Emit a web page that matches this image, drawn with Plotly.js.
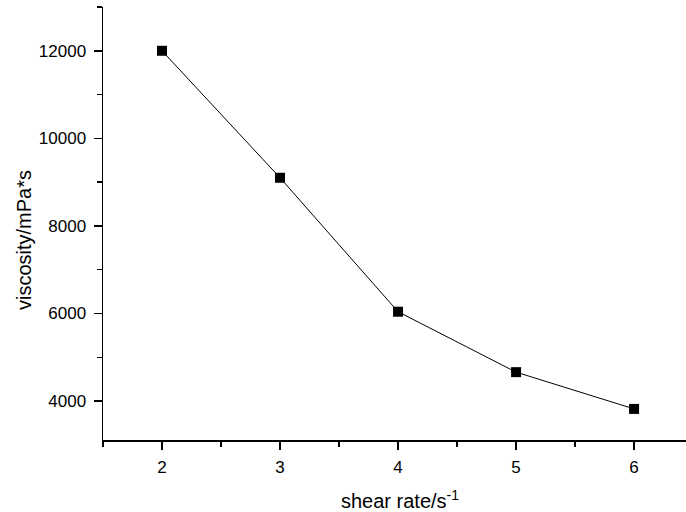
<!DOCTYPE html>
<html>
<head>
<meta charset="utf-8">
<script src="https://cdn.plot.ly/plotly-3.0.1.min.js"></script>
<style>
html,body{margin:0;padding:0;background:#fff;}
#chart{width:686px;height:512px;}
</style>
</head>
<body>
<div id="chart"></div>
<script>
const shearRate = [2, 3, 4, 5, 6];
const viscosity = [12000, 9100, 6040, 4660, 3820];
const xTickVals = [2, 3, 4, 5, 6];
const yTickVals = [4000, 6000, 8000, 10000, 12000];
const xTitle = "shear rate/s<sup>-1</sup>";
const yTitle = "viscosity/mPa*s";

const trace = {
  x: shearRate,
  y: viscosity,
  type: "scatter",
  mode: "lines+markers",
  line: {color: "#000", width: 1},
  marker: {symbol: "square", size: 10, color: "#000"},
  showlegend: false
};

const fontFam = "Liberation Sans, Arial, sans-serif";
const L = 103, T = 7, B = 72, W = 686, H = 512;
const pw = W - L, ph = H - T - B;

const layout = {
  width: W,
  height: H,
  margin: {l: L, r: 0, t: T, b: B},
  paper_bgcolor: "#fff",
  plot_bgcolor: "#fff",
  font: {family: fontFam, color: "#000", size: 17},
  xaxis: {
    range: [1.5, 6.44],
    tickvals: xTickVals,
    ticktext: xTickVals.map(String),
    ticks: "outside",
    ticklen: 8,
    tickwidth: 1.5,
    tickcolor: "#000",
    showline: true,
    linecolor: "#000",
    linewidth: 1.5,
    showgrid: false,
    zeroline: false,
    ticklabelstandoff: 3,
    tickfont: {family: fontFam, size: 17, color: "#000"},
    minor: {dtick: 0.5, tick0: 1.5, ticks: "outside", ticklen: 5, tickwidth: 1.5, tickcolor: "#000", showgrid: false}
  },
  yaxis: {
    range: [3110, 13000],
    tickvals: yTickVals,
    ticktext: yTickVals.map(String),
    ticks: "outside",
    ticklen: 8,
    tickwidth: 1.5,
    tickcolor: "#000",
    showline: true,
    linecolor: "#000",
    linewidth: 1.5,
    showgrid: false,
    zeroline: false,
    ticklabelstandoff: 4,
    tickfont: {family: fontFam, size: 17, color: "#000"},
    minor: {dtick: 1000, tick0: 3000, ticks: "outside", ticklen: 5, tickwidth: 1.5, tickcolor: "#000", showgrid: false}
  },
  annotations: [{
    text: xTitle,
    xref: "paper", yref: "paper",
    x: (400 - L) / pw, y: (T + ph - 499) / ph,
    xanchor: "center", yanchor: "middle",
    showarrow: false,
    font: {family: fontFam, size: 20, color: "#000"}
  }, {
    text: yTitle,
    xref: "paper", yref: "paper",
    x: (24 - L) / pw, y: (T + ph - 240) / ph,
    xanchor: "center", yanchor: "middle",
    textangle: -90,
    showarrow: false,
    font: {family: fontFam, size: 20, color: "#000"}
  }]
};

Plotly.newPlot("chart", [trace], layout, {displayModeBar: false, staticPlot: true});
</script>
</body>
</html>
